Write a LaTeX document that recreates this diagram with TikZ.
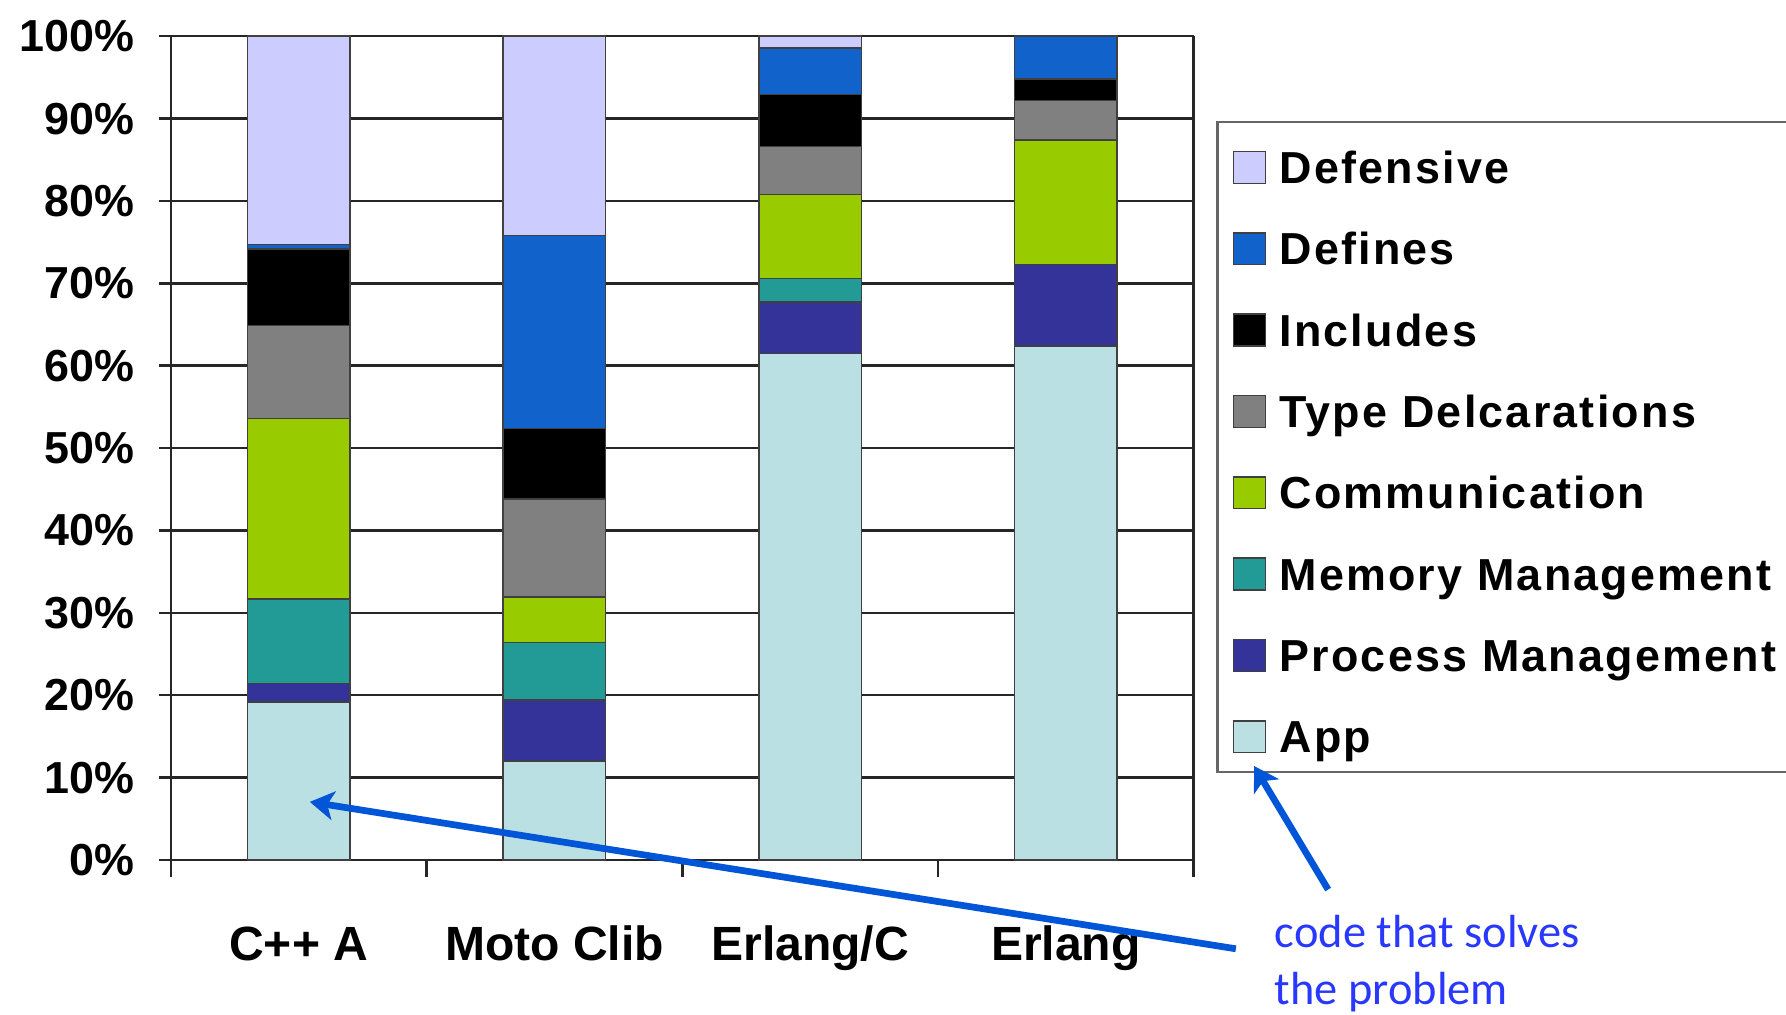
\documentclass[tikz,border=0pt]{standalone}
\usepackage{fontspec}
\setmainfont{Liberation Sans}
\newfontfamily\legfont[LetterSpace=5]{Liberation Sans}
\newfontfamily\notefont{Carlito}
\usetikzlibrary{arrows.meta,calc,positioning}

\definecolor{cDefensive}{RGB}{204,204,255}
\definecolor{cDefines}{RGB}{18,98,204}
\definecolor{cIncludes}{RGB}{0,0,0}
\definecolor{cTypes}{RGB}{128,128,128}
\definecolor{cComm}{RGB}{153,204,0}
\definecolor{cMemory}{RGB}{34,154,150}
\definecolor{cProcess}{RGB}{51,51,153}
\definecolor{cApp}{RGB}{187,224,227}
\definecolor{noteblue}{RGB}{40,56,255}
\definecolor{arrowblue}{RGB}{0,86,214}
\colorlet{seg1}{cApp}
\colorlet{seg2}{cProcess}
\colorlet{seg3}{cMemory}
\colorlet{seg4}{cComm}
\colorlet{seg5}{cTypes}
\colorlet{seg6}{cIncludes}
\colorlet{seg7}{cDefines}
\colorlet{seg8}{cDefensive}

\begin{document}
\begin{tikzpicture}[x=0.025cm,y=0.025cm,
    grid/.style={black!85,line width=1.6pt},
    seg/.style={draw=black!75,line width=1pt},
    ylab/.style={anchor=east,inner sep=0pt,font=\fontsize{28}{30}\selectfont\bfseries},
    xlab/.style={anchor=base,inner sep=0pt,font=\fontsize{30}{32}\selectfont\bfseries},
    legsq/.style={draw=black!75,line width=1pt,inner sep=0pt,minimum size=0.7cm},
    legtext/.style={anchor=base west,inner sep=0pt,font=\legfont\fontsize{28}{30}\selectfont\bfseries},
    note/.style={anchor=north west,align=left,inner sep=0pt,text=noteblue,font=\notefont\fontsize{29}{36}\selectfont},
    callout/.style={arrowblue,line width=4.2pt,-{Stealth[length=15pt,width=18pt,inset=4pt]}}]
\useasboundingbox (0,0) rectangle (1568,891);
\clip (0,0) rectangle (1568,891);

\begin{scope}[shift={(150,136)},y=0.18075cm]
  \foreach \p in {0,10,...,100} {
    \draw[grid] (-10,\p) -- (898,\p);
    \node[ylab] (y-\p) at (-32,\p) {\p\%};
  }
  \foreach \i in {0,...,4}
    \draw[grid] (224.5*\i,-2.07) -- (224.5*\i,0);
  \draw[grid] (0,0) -- (0,100);
  \draw[grid] (898,0) -- (898,100);
  \foreach \xc/\nm/\txt/\tops in {
      112.25/cpp/C++ A/{19.2,21.4,31.7,53.6,64.9,74.2,74.7,100},
      336.75/moto/Moto Clib/{12.0,19.4,26.4,31.9,43.8,52.4,75.8,100},
      561.25/erlc/Erlang\slash C/{61.5,67.7,70.6,80.8,86.6,92.9,98.6,100},
      785.75/erl/Erlang/{62.4,72.3,72.3,87.4,92.2,94.8,100,100}} {
    \foreach \hi [count=\k, remember=\hi as \lo (initially 0)] in \tops
      \draw[seg,fill=seg\k] (\xc-45,\lo) rectangle (\xc+45,\hi);
    \node[xlab] (lab-\nm) at (\xc,-12.17) {\txt};
  }
  \coordinate (cpptip) at (122,7.05);
\end{scope}

\draw[gray!80!black,line width=1.5pt] (1069,213) rectangle (1640,784);
\foreach \nm/\txt [count=\k] in {Defensive/Defensive,Defines/Defines,Includes/Includes,Types/Type Delcarations,Comm/Communication,Memory/Memory Management,Process/Process Management,App/App} {
  \node[legsq,fill=c\nm] (sq-\nm) at (1097,{744-71.4*(\k-1)}) {};
  \node[legtext] (leg-\nm) at ($(sq-\nm.center)+(26,-14)$) {\txt};
}

\node[note] (note) at (1119,88) {code that solves\\the problem};
\coordinate (apptip) at ($(sq-App.south)+(4,-11)$);
\coordinate (tail-a) at ($(note.north west)+(-34,-30)$);
\coordinate (tail-b) at ($(note.north west)+(47,22)$);
\draw[callout] (tail-a) -- (cpptip);
\draw[callout] (tail-b) -- (apptip);
\end{tikzpicture}
\end{document}
